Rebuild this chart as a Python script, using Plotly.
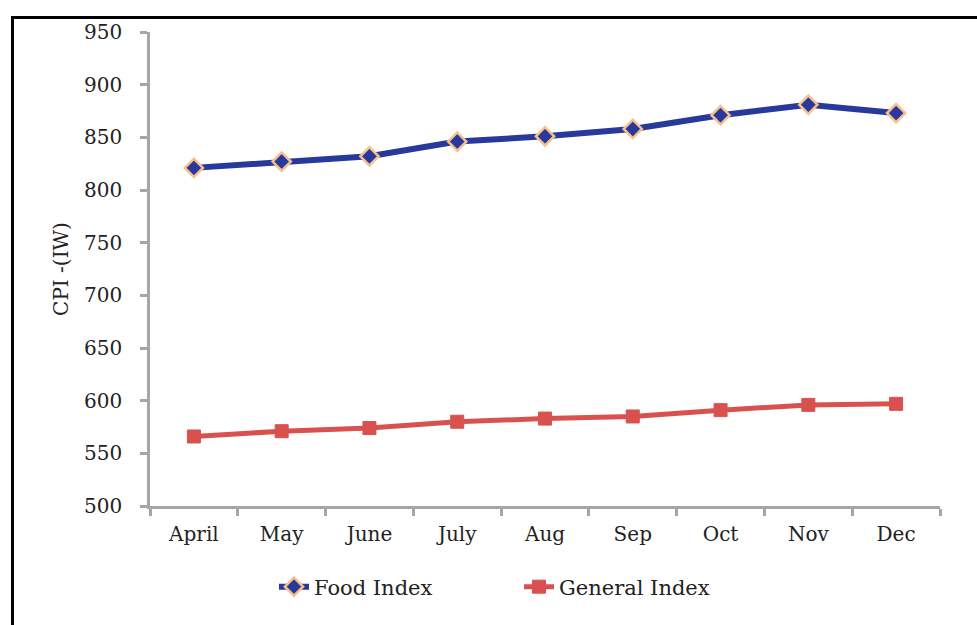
import plotly.graph_objects as go

months = ["April", "May", "June", "July", "Aug", "Sep", "Oct", "Nov", "Dec"]
food_index = [821, 827, 832, 846, 851, 858, 871, 881, 873]
general_index = [566, 571, 574, 580, 583, 585, 591, 596, 597]
y_ticks = [500, 550, 600, 650, 700, 750, 800, 850, 900, 950]

FONT = "DejaVu Serif"
FS = 20

fig = go.Figure()
fig.add_trace(go.Scatter(
    x=months, y=food_index, name="Food Index", mode="lines+markers",
    line=dict(color="#27399A", width=6),
    marker=dict(symbol="diamond", size=14, color="#27399A",
                line=dict(color="#F7C08C", width=2.5)),
))
fig.add_trace(go.Scatter(
    x=months, y=general_index, name="General Index", mode="lines+markers",
    line=dict(color="#D9514E", width=5),
    marker=dict(symbol="square", size=13, color="#D9514E",
                line=dict(color="#D9514E", width=1)),
))

L, R, T, B = 150, 37, 32, 119
W, H = 977, 625
pw, ph = W - L - R, H - T - B

def px(x):
    return (x - L) / pw

def py(y):
    return (H - B - y) / ph

fig.update_layout(
    width=W, height=H,
    margin=dict(l=L, r=R, t=T, b=B),
    paper_bgcolor="white", plot_bgcolor="white",
    font=dict(family=FONT, size=FS, color="#222222"),
    showlegend=True,
    legend=dict(orientation="h", x=px(274), xanchor="left", y=py(587), yanchor="middle",
                font=dict(family=FONT, size=21), tracegroupgap=0,
                entrywidthmode="pixels", entrywidth=200),
    xaxis=dict(
        tickmode="array", tickvals=months, ticktext=months,
        showline=True, linecolor="#A6A6A6", linewidth=2.5,
        ticks="outside", ticklen=7, tickwidth=2.5, tickcolor="#A6A6A6",
        tickson="boundaries", showgrid=False, zeroline=False,
        range=[-0.5, 8.5], fixedrange=True,
        ticklabelstandoff=8,
        tickfont=dict(family=FONT, size=FS),
    ),
    yaxis=dict(
        range=[500, 950], tickvals=y_ticks,
        showline=True, linecolor="#A6A6A6", linewidth=2.5,
        ticks="outside", ticklen=7, tickwidth=2.5, tickcolor="#A6A6A6",
        showgrid=False, zeroline=False,
        ticklabelstandoff=14,
        title=dict(text="CPI -(IW)", font=dict(family=FONT, size=FS), standoff=11),
        tickfont=dict(family=FONT, size=FS),
    ),
    shapes=[
        dict(type="line", xref="paper", yref="paper", x0=px(12.5), x1=px(12.5),
             y0=py(17), y1=py(640), line=dict(color="black", width=3)),
        dict(type="line", xref="paper", yref="paper", x0=px(11), x1=px(990),
             y0=py(17.5), y1=py(17.5), line=dict(color="black", width=3)),
    ],
)

fig.write_html("out.html", config={"displayModeBar": False},
               post_script="document.body.style.margin='0';document.body.style.padding='0';")
